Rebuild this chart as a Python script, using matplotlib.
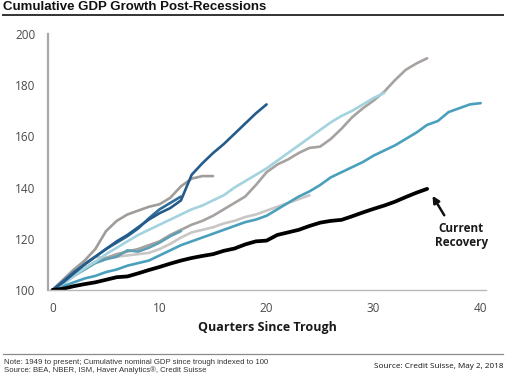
import matplotlib
matplotlib.use("Agg")
import matplotlib.pyplot as plt
from matplotlib.lines import Line2D

# ---- data (index, trough = 100) ----
current = [100, 100.5, 101.5, 102.3, 103, 104, 105, 105.3, 106.5, 107.8, 109, 110.3, 111.5, 112.5,
           113.3, 114, 115.3, 116.2, 117.8, 119, 119.3, 121.5, 122.5, 123.5, 125, 126.3, 127, 127.4,
           128.8, 130.3, 131.7, 133, 134.5, 136.3, 138, 139.5]
navy_long = [100, 103, 106.5, 110, 113, 116, 119, 121.5, 124.5, 127.5, 130, 132, 135, 145, 149.5,
             153.5, 157, 161, 165, 169, 172.5]
navy_short = [100, 103.5, 107, 110, 113, 116, 118.5, 121, 124, 128, 131.5, 134, 136.5]
light_blue = [100, 102.5, 105.5, 108.5, 111, 114, 116.5, 119, 121.5, 123.5, 125.5, 127.5, 129.5,
              131.5, 133, 135, 137, 140, 142.5, 145, 147.5, 150.5, 153.5, 156.5, 159.5, 162.5,
              165.5, 168, 170, 172.5, 175, 177]
gray_upper = [100, 104, 108, 111.5, 116, 123, 127, 129.5, 131, 132.5, 133.5, 136, 140.5, 143.5,
              144.5, 144.5]
gray_mid = [100, 103, 106, 108.5, 111, 112.5, 114, 115, 116, 117.5, 119, 121.5, 123.5, 125.5, 127,
            129, 131.5, 134, 136.5, 141, 146, 149, 151, 153.5, 155.5, 156, 159, 163, 167.5, 171,
            174, 177.5, 182, 186, 188.5, 190.5]
gray_light = [100, 104, 108, 110.5, 113, 112.5, 113, 113.5, 114, 114.5, 116, 118, 120.5, 122.5,
              123.5, 124.5, 126, 127, 128.5, 129.5, 131, 132.5, 134, 135.5, 137]
teal_long = [100, 101.5, 103, 104.5, 105.5, 107, 108, 109.5, 110.5, 111.5, 113.5, 115.5, 117.5, 119,
             120.5, 122, 123.5, 125, 126.5, 127.5, 129, 131.5, 134, 136.5, 138.5, 141, 144, 146,
             148, 150, 152.5, 154.5, 156.5, 159, 161.5, 164.5, 166, 169.5, 171, 172.5, 173]
teal_short = [100, 102.5, 105.5, 108, 110.5, 112, 113, 115.5, 115, 116.5, 118.5, 121, 123]

x_ticks = [0, 10, 20, 30, 40]
y_ticks = [100, 120, 140, 160, 180, 200]

series = [
    (gray_light, "#C9C7C5", 1.9),
    (gray_mid, "#A5A2A0", 1.9),
    (gray_upper, "#A09C9A", 1.9),
    (teal_short, "#5E9EB3", 1.9),
    (teal_long, "#4AA0BC", 1.9),
    (light_blue, "#A3D3DE", 1.9),
    (navy_short, "#2C6A9A", 1.9),
    (navy_long, "#245B8A", 1.9),
    (current, "#000000", 2.7),
]

fig = plt.figure(figsize=(5.16, 3.82), dpi=100)
ax = fig.add_axes([48 / 516, 1 - 290 / 382, (486 - 48) / 516, (290 - 34) / 382])

for vals, col, lw in series:
    ax.plot(range(len(vals)), vals, color=col, lw=lw, solid_capstyle="round", solid_joinstyle="round")

ax.set_xlim(-0.42, 40.5)
ax.set_ylim(100, 200)
ax.set_xticks(x_ticks)
ax.set_yticks(y_ticks)
ax.tick_params(length=0, labelsize=8.5, labelcolor="#4a4a4a", pad=9)
for lab in ax.get_xticklabels() + ax.get_yticklabels():
    lab.set_fontfamily("Open Sans")
for s in ["top", "right"]:
    ax.spines[s].set_visible(False)
ax.spines["left"].set_color("#A8A8A8")
ax.spines["left"].set_linewidth(1.6)
ax.spines["bottom"].set_color("#B8B8B8")
ax.spines["bottom"].set_linewidth(1.0)
ax.set_xlabel("Quarters Since Trough", fontsize=9, fontweight="bold", family="Open Sans",
              color="#1a1a1a", labelpad=4)

ax.text(38.2, 121.3, "Current\nRecovery", ha="center", va="center", fontsize=8.5,
        fontweight="bold", family="Open Sans", color="#1a1a1a", linespacing=1.15)
ax.annotate("", xy=(35.5, 136.8), xytext=(36.6, 129.2),
            arrowprops=dict(arrowstyle="-|>", color="#111111", lw=1.8, mutation_scale=10,
                            shrinkA=0, shrinkB=0))

# title and rules
fig.text(3 / 516, 1 - 7 / 382, "Cumulative GDP Growth Post-Recessions", ha="left", va="center",
         fontsize=9.5, fontweight="bold", family="Liberation Sans", color="#111111")
fig.add_artist(Line2D([3 / 516, 503 / 516], [1 - 14.5 / 382] * 2, color="#333333", lw=1.4))
fig.add_artist(Line2D([3 / 516, 503 / 516], [1 - 354 / 382] * 2, color="#8a8a8a", lw=0.9))

fig.text(4 / 516, 1 - 362 / 382, "Note: 1949 to present; Cumulative nominal GDP since trough indexed to 100",
         ha="left", va="center", fontsize=5.6, family="Liberation Sans", color="#333333")
fig.text(4 / 516, 1 - 370.5 / 382, "Source: BEA, NBER, ISM, Haver Analytics®, Credit Suisse",
         ha="left", va="center", fontsize=5.6, family="Liberation Sans", color="#333333")
fig.text(503 / 516, 1 - 366 / 382, "Source: Credit Suisse, May 2, 2018", ha="right", va="center",
         fontsize=5.9, family="Open Sans", color="#111111")

fig.savefig("out.png", dpi=100)
